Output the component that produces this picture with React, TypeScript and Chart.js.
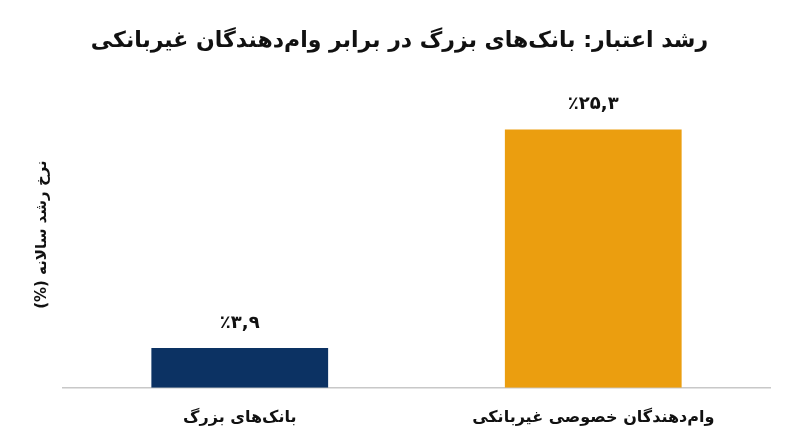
import { useEffect, useRef } from "react";
import { Chart, registerables } from "chart.js";
import type { ChartConfiguration, Plugin } from "chart.js";

Chart.register(...registerables);

const RLM = "\u200F";

const categories = ["بانک‌های بزرگ", "وام‌دهندگان خصوصی غیربانکی"];
const growthValues = [3.9, 25.3];
const valueLabels = ["٪۳,۹", "٪۲۵,۳"];
const barColors = ["#0c3263", "#eb9e0f"];

const titleText = "رشد اعتبار: بانک‌های بزرگ در برابر وام‌دهندگان غیربانکی";
const yTitleText = RLM + "نرخ رشد سالانه (%)" + RLM;

const FONT = "'DejaVu Sans', 'Noto Sans', sans-serif";

// draws the percentage above each bar
const valueLabelPlugin: Plugin<"bar"> = {
  id: "valueLabels",
  afterDatasetsDraw(chart) {
    const { ctx } = chart;
    const meta = chart.getDatasetMeta(0);
    ctx.save();
    ctx.font = `bold 18px ${FONT}`;
    ctx.fillStyle = "#111111";
    ctx.textAlign = "center";
    ctx.textBaseline = "middle";
    meta.data.forEach((bar, i) => {
      ctx.fillText(valueLabels[i], bar.x, bar.y - 25);
    });
    ctx.restore();
  },
};

export default function App() {
  const canvasRef = useRef<HTMLCanvasElement>(null);
  const chartRef = useRef<Chart | null>(null);

  useEffect(() => {
    document.body.style.margin = "0";
    if (!canvasRef.current) return;

    if (chartRef.current) {
      chartRef.current.destroy();
    }

    const config: ChartConfiguration<"bar"> = {
      type: "bar",
      data: {
        labels: categories,
        datasets: [
          {
            label: "رشد",
            data: growthValues,
            backgroundColor: barColors,
            categoryPercentage: 1,
            barPercentage: 0.5,
          },
        ],
      },
      options: {
        responsive: true,
        maintainAspectRatio: false,
        animation: false,
        layout: {
          padding: { left: 29, right: 30, top: 0, bottom: 0 },
        },
        plugins: {
          legend: { display: false },
          tooltip: { enabled: false },
          title: {
            display: true,
            text: titleText,
            color: "#111111",
            font: { family: FONT, size: 22, weight: "bold" },
            padding: { top: 28, bottom: 27 },
          },
        },
        scales: {
          x: {
            grid: { display: false, drawTicks: false },
            border: { display: true, color: "#c8c8c8", width: 1.5 },
            ticks: {
              color: "#111111",
              padding: 20,
              font: { family: FONT, size: 16, weight: "bold" },
            },
          },
          y: {
            min: 0,
            max: 30,
            grid: { display: false, drawTicks: false },
            border: { display: false },
            ticks: { display: false },
            title: {
              display: true,
              text: yTitleText,
              color: "#111111",
              font: { family: FONT, size: 15, weight: "bold" },
              padding: { top: 4, bottom: 12 },
            },
          },
        },
      },
      plugins: [valueLabelPlugin],
    };

    chartRef.current = new Chart(canvasRef.current, config);

    return () => {
      if (chartRef.current) {
        chartRef.current.destroy();
        chartRef.current = null;
      }
    };
  }, []);

  return (
    <div style={{ width: 800, height: 447, background: "#ffffff" }}>
      <canvas ref={canvasRef}></canvas>
    </div>
  );
}
